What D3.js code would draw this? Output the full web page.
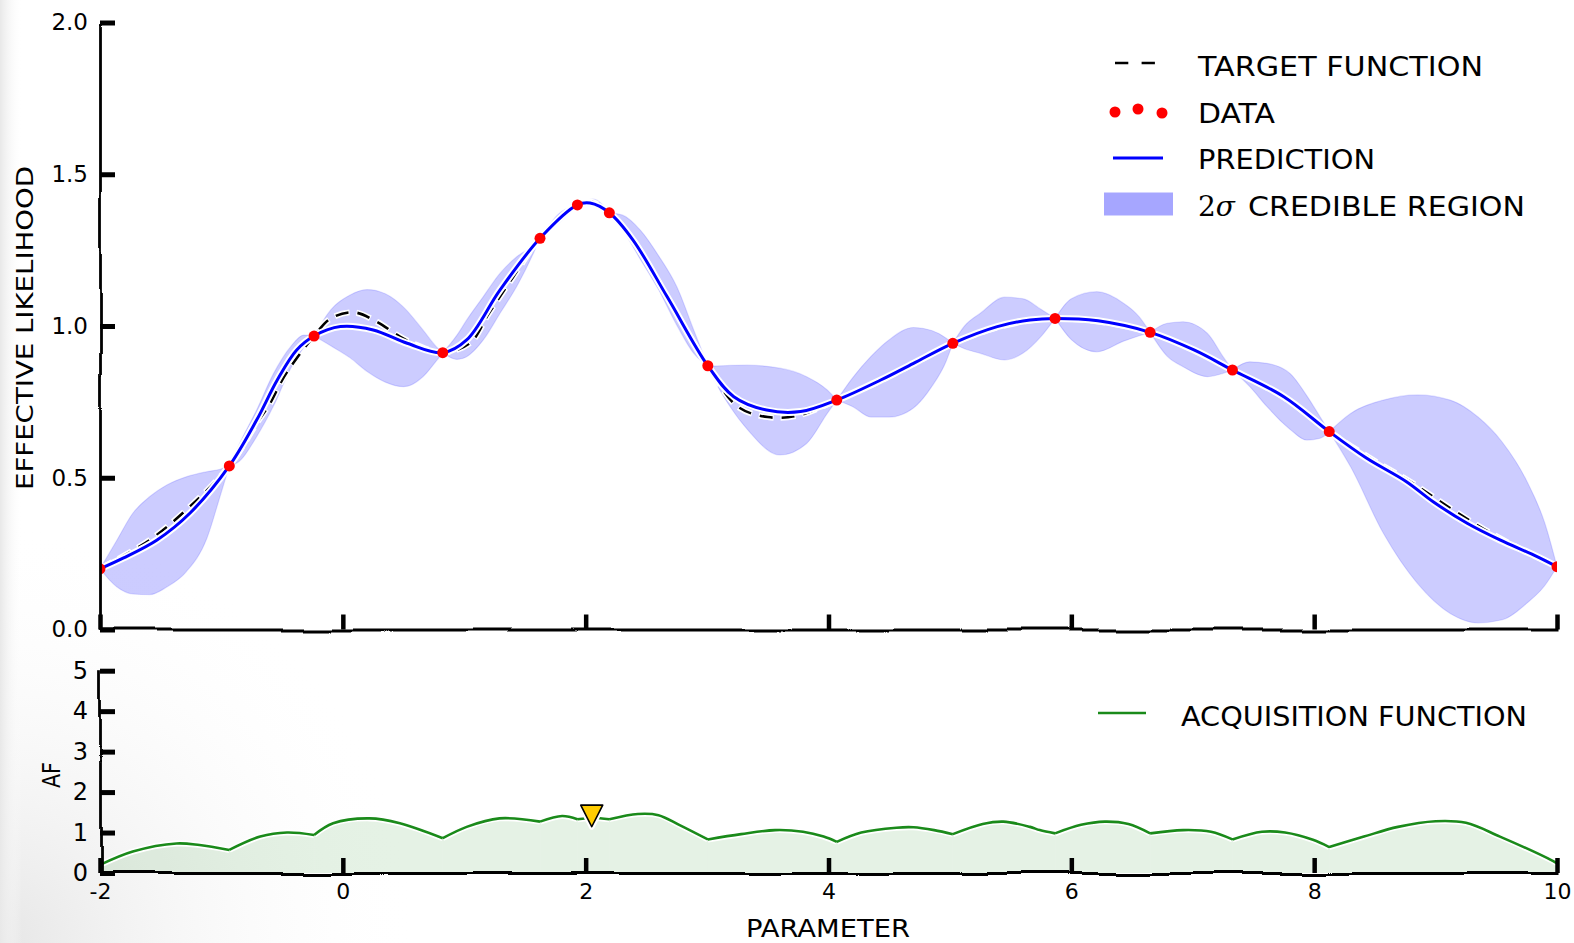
<!DOCTYPE html>
<html>
<head>
<meta charset="utf-8">
<script src="https://cdn.jsdelivr.net/npm/d3@7"></script>
<style>
  html, body { margin: 0; padding: 0; background: #fff; }
  svg { display: block; }
  text { font-family: "DejaVu Sans", sans-serif; fill: #000; }
</style>
</head>
<body>
<svg id="chart" width="1574" height="943"></svg>
<script>
// ---- observations of the likelihood ----
const dataX = [-2.0, -0.935, -0.237, 0.823, 1.624, 1.932, 2.195, 3.006, 4.068, 5.024, 5.866, 6.649, 7.327, 8.124, 10.0];
const dataY = [0.200, 0.539, 0.967, 0.912, 1.289, 1.399, 1.373, 0.869, 0.756, 0.943, 1.025, 0.979, 0.855, 0.652, 0.207];

// ---- GP posterior mean ----
const meanX = [-2.0, -1.81, -1.53, -1.26, -0.935, -0.71, -0.54, -0.38, -0.237, -0.02, 0.25, 0.53, 0.823, 1.02, 1.295,
               1.624, 1.932, 2.036, 2.195, 2.39, 2.67, 3.006, 3.22, 3.49, 3.77, 4.068, 4.43, 4.70, 5.024, 5.39, 5.66,
               5.866, 6.22, 6.649, 7.01, 7.327, 7.75, 8.124, 8.43, 8.76, 8.98, 9.26, 9.53, 9.81, 10.0];
const meanY = [0.200, 0.235, 0.295, 0.383, 0.539, 0.690, 0.822, 0.921, 0.967, 0.998, 0.987, 0.943, 0.912, 0.954, 1.119,
               1.289, 1.399, 1.405, 1.373, 1.283, 1.097, 0.869, 0.767, 0.723, 0.718, 0.756, 0.822, 0.877, 0.943, 0.998, 1.020,
               1.025, 1.017, 0.979, 0.921, 0.855, 0.767, 0.652, 0.565, 0.487, 0.421, 0.350, 0.295, 0.245, 0.207];

// ---- true target function ----
const targetX = [-2.0, -1.59, -1.26, -0.935, -0.71, -0.60, -0.50, -0.38, -0.237, -0.10, 0.09, 0.28, 0.47, 0.64, 0.823,
                 1.05, 1.20, 1.40, 1.624, 1.932, 2.04, 2.195, 2.39, 2.67, 3.006, 3.25, 3.50, 3.75, 4.068, 4.43, 4.70,
                 5.024, 5.39, 5.66, 5.866, 6.22, 6.649, 7.01, 7.327, 7.75, 8.124, 8.50, 8.80, 9.10, 9.40, 9.70, 10.0];
const targetY = [0.200, 0.295, 0.405, 0.539, 0.679, 0.745, 0.822, 0.894, 0.967, 1.025, 1.045, 1.014, 0.965, 0.932, 0.912,
                 0.945, 1.040, 1.160, 1.289, 1.399, 1.410, 1.373, 1.283, 1.097, 0.869, 0.735, 0.700, 0.705, 0.756, 0.820, 0.875,
                 0.943, 0.995, 1.018, 1.025, 1.015, 0.979, 0.920, 0.855, 0.765, 0.652, 0.555, 0.485, 0.405, 0.330, 0.265, 0.207];

// ---- 2 sigma credible region (edges pinch at the observations) ----
const bandX = [-2.0, -1.86, -1.73, -1.59, -1.45, -1.29, -1.12, -1.01, -0.935,
               -0.85, -0.71, -0.57, -0.43, -0.32, -0.237,
               -0.10, 0.06, 0.20, 0.35, 0.50, 0.66, 0.77, 0.823,
               0.94, 1.02, 1.157, 1.295, 1.432, 1.57, 1.624,
               1.78, 1.932,
               2.06, 2.195,
               2.30, 2.45, 2.60, 2.75, 2.89, 3.006,
               3.05, 3.19, 3.33, 3.60, 3.82, 3.99, 4.068,
               4.20, 4.35, 4.50, 4.70, 4.85, 4.97, 5.024,
               5.12, 5.25, 5.45, 5.60, 5.75, 5.866,
               6.00, 6.21, 6.43, 6.56, 6.649,
               6.79, 6.92, 7.12, 7.25, 7.327,
               7.47, 7.61, 7.80, 7.94, 8.05, 8.124,
               8.30, 8.57, 8.85, 9.12, 9.35, 9.55, 9.75, 9.90, 10.0];
const bandUpper = [0.200, 0.295, 0.383, 0.438, 0.476, 0.503, 0.520, 0.528, 0.539,
                   0.613, 0.723, 0.844, 0.932, 0.970, 0.967,
                   1.053, 1.102, 1.120, 1.106, 1.062, 0.987, 0.932, 0.912,
                   0.970, 1.020, 1.097, 1.174, 1.228, 1.267, 1.289,
                   1.370, 1.399,
                   1.418, 1.373,
                   1.366, 1.316, 1.232, 1.130, 0.987, 0.869,
                   0.868, 0.870, 0.871, 0.861, 0.833, 0.789, 0.756,
                   0.830, 0.900, 0.955, 0.995, 0.985, 0.960, 0.943,
                   1.000, 1.042, 1.095, 1.090, 1.055, 1.025,
                   1.090, 1.113, 1.075, 1.030, 0.979,
                   1.009, 1.014, 0.976, 0.899, 0.855,
                   0.882, 0.877, 0.844, 0.770, 0.700, 0.652,
                   0.712, 0.756, 0.773, 0.756, 0.700, 0.617, 0.490, 0.350, 0.207];
const bandLower = [0.200, 0.140, 0.117, 0.115, 0.140, 0.190, 0.300, 0.440, 0.539,
                   0.555, 0.635, 0.737, 0.860, 0.930, 0.967,
                   0.935, 0.895, 0.850, 0.815, 0.800, 0.833, 0.885, 0.912,
                   0.890, 0.899, 0.954, 1.042, 1.130, 1.240, 1.289,
                   1.340, 1.399,
                   1.395, 1.373,
                   1.320, 1.220, 1.120, 1.003, 0.910, 0.869,
                   0.830, 0.734, 0.660, 0.575, 0.613, 0.712, 0.756,
                   0.734, 0.700, 0.700, 0.730, 0.800, 0.885, 0.943,
                   0.925, 0.910, 0.888, 0.910, 0.965, 1.025,
                   0.955, 0.915, 0.950, 0.968, 0.979,
                   0.900, 0.866, 0.833, 0.844, 0.855,
                   0.800, 0.735, 0.660, 0.624, 0.630, 0.652,
                   0.536, 0.317, 0.152, 0.053, 0.022, 0.032, 0.086, 0.145, 0.207];

// ---- acquisition function (kinks at the observations) ----
const afX = [-2.0, -1.73, -1.37, -1.18, -0.935, -0.68, -0.46, -0.237, -0.08, 0.22, 0.47, 0.823, 1.02, 1.29, 1.624,
             1.806, 1.932, 2.06, 2.195, 2.43, 2.60, 2.77, 3.006, 3.28, 3.56, 3.79, 3.96, 4.068, 4.27, 4.56, 4.70, 4.87,
             5.024, 5.27, 5.44, 5.66, 5.74, 5.866, 6.08, 6.276, 6.47, 6.649, 6.92, 7.15, 7.327, 7.57, 7.76, 7.99, 8.124,
             8.41, 8.69, 9.00, 9.25, 9.53, 9.965, 10.0];
const afY = [0.20, 0.53, 0.73, 0.69, 0.57, 0.90, 1.00, 0.94, 1.23, 1.35, 1.23, 0.86, 1.14, 1.35, 1.27,
             1.41, 1.33, 1.36, 1.33, 1.46, 1.43, 1.19, 0.83, 0.96, 1.06, 1.02, 0.90, 0.77, 1.00, 1.12, 1.13, 1.06,
             0.96, 1.21, 1.27, 1.14, 1.06, 0.98, 1.19, 1.27, 1.21, 0.98, 1.06, 1.02, 0.83, 1.02, 1.00, 0.82, 0.64,
             0.90, 1.14, 1.28, 1.24, 0.90, 0.30, 0.24];

// next point proposed by the acquisition function
const nextX = [2.05];
const nextY = [1.41];

// ---- ticks and labels ----
const xTicks = [-2, 0, 2, 4, 6, 8, 10];
const topYTicks = [0, 0.5, 1.0, 1.5, 2.0];
const botYTicks = [0, 1, 2, 3, 4, 5];
const legendTop = ["TARGET FUNCTION", "DATA", "PREDICTION", "CREDIBLE REGION"];
const legendBottom = ["ACQUISITION FUNCTION"];

// ---------------------------------------------------------------
const W = 1574, H = 943;
const svg = d3.select("#chart");
const defs = svg.append("defs");

// hand-drawn wobble for the spines (region given in each element's local space)
const wob = defs.append("filter").attr("id", "wobble")
  .attr("filterUnits", "userSpaceOnUse").attr("x", -300).attr("y", -1000).attr("width", 2200).attr("height", 2200);
wob.append("feTurbulence").attr("type", "fractalNoise").attr("baseFrequency", "0.011")
  .attr("numOctaves", 1).attr("seed", 7).attr("result", "noise");
wob.append("feDisplacementMap").attr("in", "SourceGraphic").attr("in2", "noise")
  .attr("scale", 10).attr("xChannelSelector", "R").attr("yChannelSelector", "G");

// soft page shading along the left / lower-left edge
const edge = defs.append("linearGradient").attr("id", "edgeShade").attr("x1", 0).attr("x2", 1).attr("y1", 0).attr("y2", 0);
edge.append("stop").attr("offset", 0).attr("stop-color", "#e8e8e8").attr("stop-opacity", 1);
edge.append("stop").attr("offset", 1).attr("stop-color", "#ffffff").attr("stop-opacity", 0);
const corner = defs.append("radialGradient").attr("id", "cornerShade")
  .attr("gradientUnits", "userSpaceOnUse").attr("cx", 0).attr("cy", H).attr("r", 420);
corner.append("stop").attr("offset", 0).attr("stop-color", "#e6e6e6").attr("stop-opacity", 1);
corner.append("stop").attr("offset", 1).attr("stop-color", "#ffffff").attr("stop-opacity", 0);
svg.append("rect").attr("width", W).attr("height", H).attr("fill", "#fff");
svg.append("rect").attr("width", W).attr("height", H).attr("fill", "url(#cornerShade)");
svg.append("rect").attr("width", 22).attr("height", H).attr("fill", "url(#edgeShade)");

// scales
const x = d3.scaleLinear().domain([-2, 10]).range([100, 1557]);
const yTop = d3.scaleLinear().domain([0, 2]).range([629.5, 22.5]);
const yBot = d3.scaleLinear().domain([0, 5]).range([873, 670.7]);

defs.append("clipPath").attr("id", "clipTop").append("rect")
  .attr("x", x(-2)).attr("y", yTop(2)).attr("width", x(10) - x(-2)).attr("height", yTop(0) - yTop(2));
defs.append("clipPath").attr("id", "clipBot").append("rect")
  .attr("x", x(-2)).attr("y", yBot(5)).attr("width", x(10) - x(-2)).attr("height", yBot(0) - yBot(5));

const zip = (xs, ys) => xs.map((v, i) => ({ x: v, y: ys[i] }));

// ================= upper panel =================
const upper = svg.append("g").attr("clip-path", "url(#clipTop)");

// credible region: one lens between each pair of neighbouring observations
const band = bandX.map((v, i) => ({ x: v, lo: bandLower[i], hi: bandUpper[i] }));
const lenses = [];
let cur = [band[0]];
for (let i = 1; i < band.length; i++) {
  cur.push(band[i]);
  if (band[i].lo === band[i].hi) { lenses.push(cur); cur = [band[i]]; }
}
const bandArea = d3.area().x(d => x(d.x)).y0(d => yTop(d.lo)).y1(d => yTop(d.hi)).curve(d3.curveMonotoneX);
upper.append("g").selectAll("path").data(lenses).join("path")
  .attr("d", bandArea)
  .attr("fill", "#0000ff").attr("fill-opacity", 0.2)
  .attr("stroke", "#0000ff").attr("stroke-opacity", 0.12).attr("stroke-width", 1.2);

const smooth = d3.line().x(d => x(d.x)).y(d => yTop(d.y)).curve(d3.curveCatmullRom.alpha(0.5));

// target function (dashed, white halo)
const targetPts = zip(targetX, targetY);
upper.append("path").attr("d", smooth(targetPts)).attr("fill", "none")
  .attr("stroke", "#fff").attr("stroke-width", 6).attr("stroke-dasharray", "15,7").attr("stroke-dashoffset", 1);
upper.append("path").attr("d", smooth(targetPts)).attr("fill", "none")
  .attr("stroke", "#000").attr("stroke-width", 2.6).attr("stroke-dasharray", "13,9");

// prediction
const meanPts = zip(meanX, meanY);
upper.append("path").attr("d", smooth(meanPts)).attr("fill", "none")
  .attr("stroke", "#fff").attr("stroke-width", 7).attr("stroke-linecap", "round");
upper.append("path").attr("d", smooth(meanPts)).attr("fill", "none")
  .attr("stroke", "#0000ff").attr("stroke-width", 3);

// observations
upper.append("g").selectAll("circle").data(zip(dataX, dataY)).join("circle")
  .attr("cx", d => x(d.x)).attr("cy", d => yTop(d.y)).attr("r", 5.5).attr("fill", "#ff0000");

// ================= lower panel =================
const lower = svg.append("g").attr("clip-path", "url(#clipBot)");
const afPts = zip(afX, afY);
const kinkSet = new Set(dataX);
const arcs = [];
let arc = [afPts[0]];
for (let i = 1; i < afPts.length; i++) {
  arc.push(afPts[i]);
  if (kinkSet.has(afPts[i].x) && i < afPts.length - 1) { arcs.push(arc); arc = [afPts[i]]; }
}
arcs.push(arc);
const afCurve = d3.curveCatmullRom.alpha(0.5);
const afArea = d3.area().x(d => x(d.x)).y0(yBot(0)).y1(d => yBot(d.y)).curve(afCurve);
const afLine = d3.line().x(d => x(d.x)).y(d => yBot(d.y)).curve(afCurve);
lower.append("g").selectAll("path").data(arcs).join("path")
  .attr("d", afArea).attr("fill", "#008000").attr("fill-opacity", 0.1);
const afPath = arcs.map(a => afLine(a)).join("");
lower.append("path").attr("d", afPath).attr("fill", "none")
  .attr("stroke", "#fff").attr("stroke-width", 6).attr("stroke-linejoin", "round");
lower.append("path").attr("d", afPath).attr("fill", "none")
  .attr("stroke", "#1a8a1a").attr("stroke-width", 2.6).attr("stroke-linejoin", "round");

// proposed next sample
const tri = "M-11,-10.8L11,-10.8L0,10.8Z";
const marks = svg.append("g").selectAll("g").data(zip(nextX, nextY)).join("g")
  .attr("transform", d => `translate(${x(d.x)},${yBot(d.y)})`);
marks.append("path").attr("d", tri).attr("fill", "none").attr("stroke", "#fff").attr("stroke-width", 6).attr("stroke-linejoin", "round");
marks.append("path").attr("d", tri).attr("fill", "#ffcc00").attr("stroke", "#000").attr("stroke-width", 1.6).attr("stroke-linejoin", "round");

// ================= axes =================
function styleAxis(g, tickW, fontSize) {
  g.select(".domain").attr("stroke", "#000").attr("stroke-width", 2.8).attr("filter", "url(#wobble)");
  g.selectAll(".tick line").attr("stroke", "#000").attr("stroke-width", tickW);
  g.selectAll(".tick text").attr("font-size", fontSize).attr("fill", "#000")
    .style("font-family", '"DejaVu Sans", sans-serif');
}

const axTopX = svg.append("g").attr("transform", `translate(0,${yTop(0)})`)
  .call(d3.axisBottom(x).tickValues(xTicks).tickSizeInner(-15).tickSizeOuter(0).tickFormat(() => ""));
styleAxis(axTopX, 4.5, 22);

const axTopY = svg.append("g").attr("transform", `translate(${x(-2)},0)`)
  .call(d3.axisLeft(yTop).tickValues(topYTicks).tickSizeInner(-15).tickSizeOuter(0)
    .tickPadding(12).tickFormat(d3.format(".1f")));
styleAxis(axTopY, 5, 23);

const axBotX = svg.append("g").attr("transform", `translate(0,${yBot(0)})`)
  .call(d3.axisBottom(x).tickValues(xTicks).tickSizeInner(-15).tickSizeOuter(0)
    .tickPadding(10).tickFormat(d => String(d)));
styleAxis(axBotX, 4.5, 22);

const axBotY = svg.append("g").attr("transform", `translate(${x(-2)},0)`)
  .call(d3.axisLeft(yBot).tickValues(botYTicks).tickSizeInner(-15).tickSizeOuter(0)
    .tickPadding(12).tickFormat(d => String(d)));
styleAxis(axBotY, 5, 24);

// axis titles
svg.append("text").attr("transform", "translate(33,328) rotate(-90)")
  .attr("text-anchor", "middle").attr("font-size", 23)
  .attr("textLength", 324).attr("lengthAdjust", "spacingAndGlyphs").text("EFFECTIVE LIKELIHOOD");
svg.append("text").attr("transform", "translate(60,775) rotate(-90)")
  .attr("text-anchor", "middle").attr("font-size", 24)
  .attr("textLength", 26).attr("lengthAdjust", "spacingAndGlyphs").text("AF");
svg.append("text").attr("x", 828).attr("y", 937)
  .attr("text-anchor", "middle").attr("font-size", 25)
  .attr("textLength", 164).attr("lengthAdjust", "spacingAndGlyphs").text("PARAMETER");

// ================= legends =================
const legX = 1198, legY0 = 76, legDY = 46.5;
const legWidths = [285, 77, 177, 277];
const lg = svg.append("g");
legendTop.forEach((label, i) => {
  const t = lg.append("text").attr("y", legY0 + i * legDY).attr("font-size", 26);
  if (i === 3) {
    lg.append("text").attr("x", legX).attr("y", legY0 + i * legDY).attr("font-size", 28)
      .style("font-family", '"DejaVu Serif", serif')
      .html('2<tspan font-style="italic">σ</tspan>');
    t.attr("x", legX + 50);
  } else {
    t.attr("x", legX);
  }
  t.attr("textLength", legWidths[i]).attr("lengthAdjust", "spacingAndGlyphs").text(label);
});
// handles
const hy = i => legY0 + i * legDY - 11;
lg.append("line").attr("x1", 1115).attr("x2", 1155).attr("y1", hy(0) - 2).attr("y2", hy(0) - 2)
  .attr("stroke", "#000").attr("stroke-width", 2.6).attr("stroke-dasharray", "13.3,13.3");
[[1115, 0.5], [1138, -2.5], [1162, 1.5]].forEach(([cx, dy]) => {
  lg.append("circle").attr("cx", cx).attr("cy", hy(1) + dy).attr("r", 5.5).attr("fill", "#ff0000");
});
lg.append("line").attr("x1", 1113).attr("x2", 1163).attr("y1", hy(2)).attr("y2", hy(2))
  .attr("stroke", "#fff").attr("stroke-width", 7);
lg.append("line").attr("x1", 1113).attr("x2", 1163).attr("y1", hy(2)).attr("y2", hy(2))
  .attr("stroke", "#0000ff").attr("stroke-width", 3);
lg.append("rect").attr("x", 1104).attr("y", hy(3) - 12).attr("width", 69).attr("height", 23)
  .attr("fill", "#0000ff").attr("fill-opacity", 0.35);

const lb = svg.append("g");
lb.append("line").attr("x1", 1098).attr("x2", 1146).attr("y1", 713).attr("y2", 713)
  .attr("stroke", "#1a8a1a").attr("stroke-width", 2.6);
lb.append("text").attr("x", 1181).attr("y", 726).attr("font-size", 26)
  .attr("textLength", 346).attr("lengthAdjust", "spacingAndGlyphs").text(legendBottom[0]);
</script>
</body>
</html>
